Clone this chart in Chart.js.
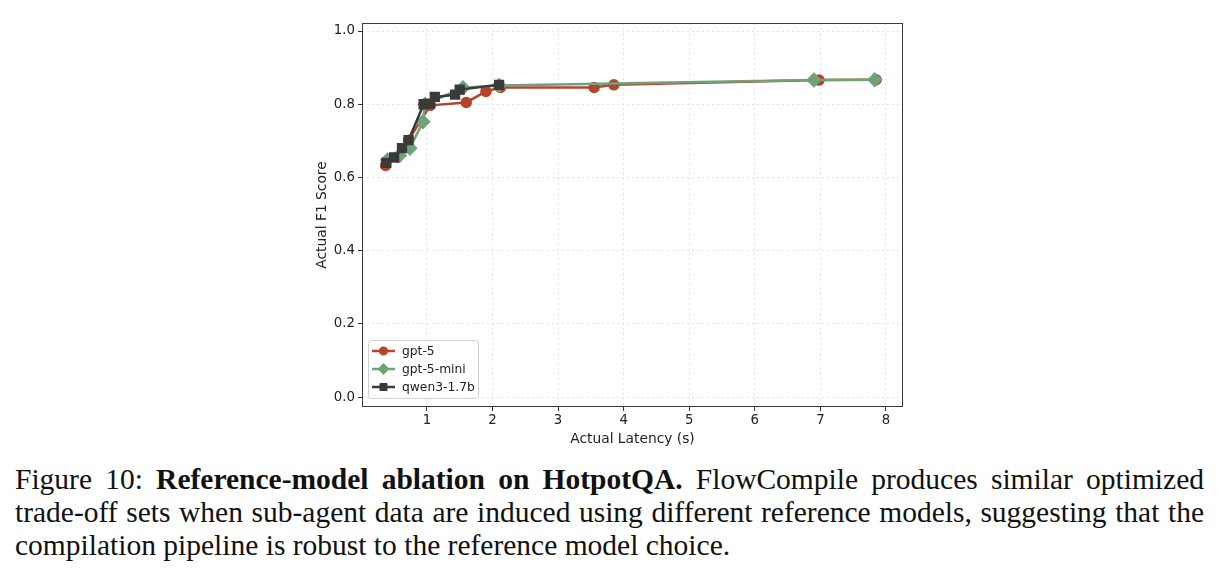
<!DOCTYPE html>
<html>
<head>
<meta charset="utf-8">
<script src="https://cdn.jsdelivr.net/npm/chart.js@4/dist/chart.umd.min.js"></script>
<style>
  body { margin: 0; background: #fff; width: 1218px; height: 578px; position: relative; overflow: hidden; }
  #wrap { position: absolute; left: 290px; top: 12px; width: 625px; height: 440px; }
  #caption {
    position: absolute; left: 15px; top: 463px; width: 1189px;
    font-family: "Liberation Serif", "Times New Roman", serif; font-size: 29.5px;
    line-height: 33px; text-align: justify; color: #111;
  }
  .nb { white-space: nowrap; }
</style>
</head>
<body>
<div id="wrap"><canvas id="pareto"></canvas></div>
<div id="caption">Figure 10: <b>Reference-model ablation on HotpotQA.</b> FlowCompile produces similar optimized <span class="nb">trade-off</span> sets when <span class="nb">sub-agent</span> data are induced using different reference models, suggesting that the compilation pipeline is robust to the reference model choice.</div>
<script>
// values (latency in s, F1 score)
const gpt5Latency = [0.37, 0.55, 0.72, 1.05, 1.60, 1.90, 2.12, 3.55, 3.85, 6.98, 7.85]
const gpt5F1      = [0.633, 0.655, 0.702, 0.797, 0.805, 0.835, 0.846, 0.846, 0.853, 0.866, 0.867]

const miniLatency = [0.40, 0.58, 0.74, 0.94, 0.97, 1.55, 2.10, 6.90, 7.83]
const miniF1      = [0.648, 0.660, 0.680, 0.752, 0.800, 0.845, 0.851, 0.866, 0.867]

const qwenLatency = [0.38, 0.50, 0.62, 0.72, 0.95, 1.05, 1.12, 1.43, 1.50, 2.10]
const qwenF1      = [0.640, 0.655, 0.680, 0.702, 0.800, 0.802, 0.820, 0.826, 0.840, 0.853]

const seriesNames = ['gpt-5', 'gpt-5-mini', 'qwen3-1.7b']
const xTicks = [1, 2, 3, 4, 5, 6, 7, 8]
const yTicks = [0.0, 0.2, 0.4, 0.6, 0.8, 1.0]

const toPoints = (xs, ys) => xs.map((x, i) => ({x: x, y: ys[i]}))

const frame = { // full box around the plot, like matplotlib spines
    id: 'frame',
    afterDraw(chart) {
        const a = chart.chartArea, c = chart.ctx
        c.save()
        c.strokeStyle = '#3a3a3a'
        c.lineWidth = 1
        c.strokeRect(a.left + 0.5, a.top + 0.5, a.right - a.left - 1, a.bottom - a.top - 1)
        c.restore()
    }
}

const legendBox = { // legend drawn inside the plot, lower left
    id: 'legendBox',
    afterDraw(chart) {
        const a = chart.chartArea, c = chart.ctx
        const x0 = a.left + 6, y0 = a.bottom - 67
        c.save()
        c.fillStyle = 'rgba(255,255,255,0.85)'
        c.strokeStyle = '#d0d0d0'
        c.lineWidth = 1
        c.beginPath()
        c.roundRect(x0 + 0.5, y0 + 0.5, 110, 58, 3)
        c.fill(); c.stroke()
        chart.data.datasets.forEach((ds, i) => {
            const y = y0 + 11 + i * 18
            c.strokeStyle = ds.borderColor
            c.lineWidth = ds.borderWidth
            c.beginPath(); c.moveTo(x0 + 4, y); c.lineTo(x0 + 27, y); c.stroke()
            c.fillStyle = ds.backgroundColor
            c.lineWidth = 1
            Chart.helpers.drawPoint(c, {pointStyle: ds.pointStyle, radius: ds.pointRadius * 0.9, borderWidth: 1}, x0 + 15.5, y)
            c.fillStyle = '#222'
            c.font = '12.3px "DejaVu Sans"'
            c.textBaseline = 'middle'
            c.fillText(ds.label, x0 + 34, y + 0.5)
        })
        c.restore()
    }
}

function makeDataset(i, xs, ys, color, style, r, order) {
    return {
        label: seriesNames[i],
        data: toPoints(xs, ys),
        borderColor: color,
        backgroundColor: color,
        pointBackgroundColor: color,
        pointBorderColor: color,
        borderWidth: 2.5,
        pointStyle: style,
        pointRadius: r,
        pointHoverRadius: r,
        tension: 0,
        order: order
    }
}

const tickFont = {family: 'DejaVu Sans', size: 13.3}
const titleFont = {family: 'DejaVu Sans', size: 13.8}

const ctx = document.getElementById('pareto')
const myChart = new Chart(ctx, {
    type: 'line',
    data: {
        datasets: [
            makeDataset(0, gpt5Latency, gpt5F1, '#b5432f', 'circle', 4.5, 3),
            makeDataset(1, miniLatency, miniF1, '#6fa27a', 'rectRot', 6, 2),
            makeDataset(2, qwenLatency, qwenF1, '#3a3a3a', 'rect', 5.5, 1)
        ]
    },
    options: {
        responsive: true,
        maintainAspectRatio: false,
        animation: false,
        devicePixelRatio: 1,
        layout: { padding: { top: 10, right: 12, left: 20, bottom: 0 } },
        plugins: { legend: { display: false }, tooltip: { enabled: false } },
        scales: {
            x: {
                type: 'linear',
                min: 0.01, max: 8.26,
                afterBuildTicks: (s) => { s.ticks = xTicks.map(v => ({value: v})) },
                afterFit: (s) => { s.height = 45 },
                ticks: { includeBounds: false, color: '#222', font: tickFont, padding: 2,
                         callback: (v) => v.toString() },
                grid: { color: '#e4e4e4', tickColor: '#333', tickLength: 4, tickBorderDash: [] },
                border: { display: false, dash: [2, 3] },
                title: { display: true, text: 'Actual Latency (s)', color: '#222', font: titleFont, padding: {top: 1} }
            },
            y: {
                type: 'linear',
                min: -0.027, max: 1.022,
                afterBuildTicks: (s) => { s.ticks = yTicks.map(v => ({value: v})) },
                afterFit: (s) => { s.width = 52 },
                ticks: { includeBounds: false, color: '#222', font: tickFont, padding: 3,
                         callback: (v) => v.toFixed(1) },
                grid: { color: '#e4e4e4', tickColor: '#333', tickLength: 4, tickBorderDash: [] },
                border: { display: false, dash: [2, 3] },
                title: { display: true, text: 'Actual F1 Score', color: '#222', font: titleFont, padding: {bottom: 4} }
            }
        }
    },
    plugins: [frame, legendBox]
})
</script>
</body>
</html>
